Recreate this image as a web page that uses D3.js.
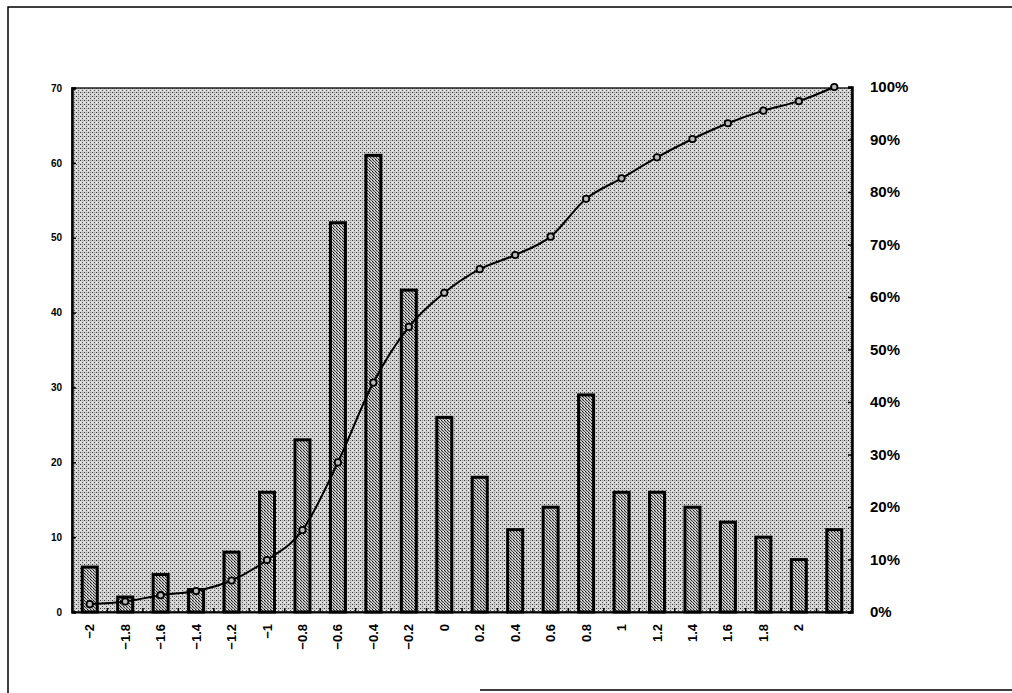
<!DOCTYPE html>
<html>
<head>
<meta charset="utf-8">
<script src="https://cdn.jsdelivr.net/npm/d3@7"></script>
<style>
  body { margin: 0; background: #fff; }
  svg { display: block; font-family: "Liberation Sans", Arial, sans-serif; }
</style>
</head>
<body>
<svg id="chart"></svg>
<script>
// categories along the x axis (last one has no label)
const categories = ['−2', '−1.8', '−1.6', '−1.4', '−1.2', '−1', '−0.8', '−0.6', '−0.4', '−0.2',
    '0', '0.2', '0.4', '0.6', '0.8', '1', '1.2', '1.4', '1.6', '1.8', '2', ''];
// frequency per category (left axis)
const counts = [6, 2, 5, 3, 8, 16, 23, 52, 61, 43, 26, 18, 11, 14, 29, 16, 16, 14, 12, 10, 7, 11];
// cumulative share per category (right axis)
const cumulative = [0.015, 0.02, 0.032, 0.04, 0.06, 0.099, 0.156, 0.285, 0.437, 0.543, 0.608,
    0.653, 0.68, 0.715, 0.787, 0.826, 0.866, 0.901, 0.931, 0.955, 0.973, 1.0];
const leftTicks = [0, 10, 20, 30, 40, 50, 60, 70];
const rightTicks = [0, 0.1, 0.2, 0.3, 0.4, 0.5, 0.6, 0.7, 0.8, 0.9, 1.0];

const width = 1012, height = 693;
const plot = { left: 72, right: 852, top: 88, bottom: 612 };

const svg = d3.select('#chart')
    .attr('width', width)
    .attr('height', height);

// dithered fills, like the printed original
const defs = svg.append('defs');
const bg = defs.append('pattern')
    .attr('id', 'bgDots')
    .attr('width', 4).attr('height', 4)
    .attr('patternUnits', 'userSpaceOnUse');
bg.append('rect').attr('width', 4).attr('height', 4).attr('fill', '#d2d2d2');
bg.append('rect').attr('x', 0).attr('y', 0).attr('width', 1).attr('height', 1).attr('fill', '#333');
bg.append('rect').attr('x', 2).attr('y', 2).attr('width', 1).attr('height', 1).attr('fill', '#555');
bg.append('rect').attr('x', 2).attr('y', 0).attr('width', 1).attr('height', 1).attr('fill', '#999');
bg.append('rect').attr('x', 0).attr('y', 2).attr('width', 1).attr('height', 1).attr('fill', '#f4f4f4');

const barPat = defs.append('pattern')
    .attr('id', 'barDots')
    .attr('width', 3).attr('height', 3)
    .attr('patternUnits', 'userSpaceOnUse');
barPat.append('rect').attr('width', 3).attr('height', 3).attr('fill', '#bdbdbd');
barPat.append('rect').attr('x', 0).attr('y', 0).attr('width', 1).attr('height', 1).attr('fill', '#111');
barPat.append('rect').attr('x', 1).attr('y', 1).attr('width', 1).attr('height', 1).attr('fill', '#333');
barPat.append('rect').attr('x', 2).attr('y', 2).attr('width', 1).attr('height', 1).attr('fill', '#555');
barPat.append('rect').attr('x', 2).attr('y', 0).attr('width', 1).attr('height', 1).attr('fill', '#eee');

// page frame
svg.append('path')
    .attr('d', `M8,693 L8,7 L1012,7 M480,690 L1012,690`)
    .attr('fill', 'none')
    .attr('stroke', '#000')
    .attr('stroke-width', 1.5);

const xScale = d3.scaleBand()
    .domain(d3.range(categories.length))
    .range([plot.left, plot.right])
    .padding(0);

const yLeft = d3.scaleLinear().domain([0, 70]).range([plot.bottom, plot.top]);
const yRight = d3.scaleLinear().domain([0, 1]).range([plot.bottom, plot.top - 1]);

// plot area background
svg.append('rect')
    .attr('x', plot.left)
    .attr('y', plot.top)
    .attr('width', plot.right - plot.left)
    .attr('height', plot.bottom - plot.top)
    .attr('fill', 'url(#bgDots)')
    .attr('stroke', '#222')
    .attr('stroke-width', 1.5);

const barW = 15;
svg.append('g').selectAll('rect')
    .data(counts)
    .join('rect')
    .attr('x', (d, i) => xScale(i) + xScale.bandwidth() / 2 - barW / 2)
    .attr('y', d => yLeft(d))
    .attr('width', barW)
    .attr('height', d => yLeft(0) - yLeft(d))
    .attr('fill', 'url(#barDots)')
    .attr('stroke', '#000')
    .attr('stroke-width', 3);

// cumulative line
const line = d3.line()
    .x((d, i) => xScale(i) + xScale.bandwidth() / 2)
    .y(d => yRight(d))
    .curve(d3.curveMonotoneX);

svg.append('path')
    .datum(cumulative)
    .attr('d', line)
    .attr('fill', 'none')
    .attr('stroke', '#000')
    .attr('stroke-width', 2);

svg.append('g').selectAll('circle')
    .data(cumulative)
    .join('circle')
    .attr('cx', (d, i) => xScale(i) + xScale.bandwidth() / 2)
    .attr('cy', d => yRight(d))
    .attr('r', 3.2)
    .attr('fill', '#bbb')
    .attr('stroke', '#000')
    .attr('stroke-width', 1.8);

// axes
const xAxis = d3.axisBottom(xScale)
    .tickFormat(i => categories[i])
    .tickSize(0)
    .tickPadding(0);
const xAxisG = svg.append('g')
    .attr('transform', `translate(0,${plot.bottom})`)
    .call(xAxis);
xAxisG.select('.domain').attr('stroke', '#000').attr('stroke-width', 2);
xAxisG.selectAll('text')
    .attr('transform', 'rotate(-90)')
    .attr('x', -12)
    .attr('y', 0)
    .attr('dy', '0.35em')
    .style('text-anchor', 'end')
    .attr('font-size', 13)
    .attr('font-weight', 'bold')
    .attr('fill', '#000');
// small inner ticks between the bars
svg.append('g').selectAll('line')
    .data(d3.range(1, categories.length))
    .join('line')
    .attr('x1', i => xScale(i)).attr('x2', i => xScale(i))
    .attr('y1', plot.bottom).attr('y2', plot.bottom - 4)
    .attr('stroke', '#000').attr('stroke-width', 1.5);

const leftAxis = d3.axisLeft(yLeft)
    .tickValues(leftTicks)
    .tickSize(-4)
    .tickPadding(10);
const leftG = svg.append('g')
    .attr('transform', `translate(${plot.left},0)`)
    .call(leftAxis);
leftG.select('.domain').attr('stroke', '#000').attr('stroke-width', 2.5);
leftG.selectAll('.tick line').attr('stroke', '#000').attr('stroke-width', 1.5);
leftG.selectAll('text')
    .attr('font-size', 10)
    .attr('font-weight', 'bold')
    .attr('fill', '#000');

const rightAxis = d3.axisRight(yRight)
    .tickValues(rightTicks)
    .tickFormat(d3.format('.0%'))
    .tickSize(-4)
    .tickPadding(18);
const rightG = svg.append('g')
    .attr('transform', `translate(${plot.right},0)`)
    .call(rightAxis);
rightG.select('.domain').attr('stroke', '#000').attr('stroke-width', 2.5);
rightG.selectAll('.tick line').attr('stroke', '#000').attr('stroke-width', 1.5);
rightG.selectAll('text')
    .attr('font-size', 15)
    .attr('font-weight', 'bold')
    .attr('fill', '#000');
</script>
</body>
</html>
